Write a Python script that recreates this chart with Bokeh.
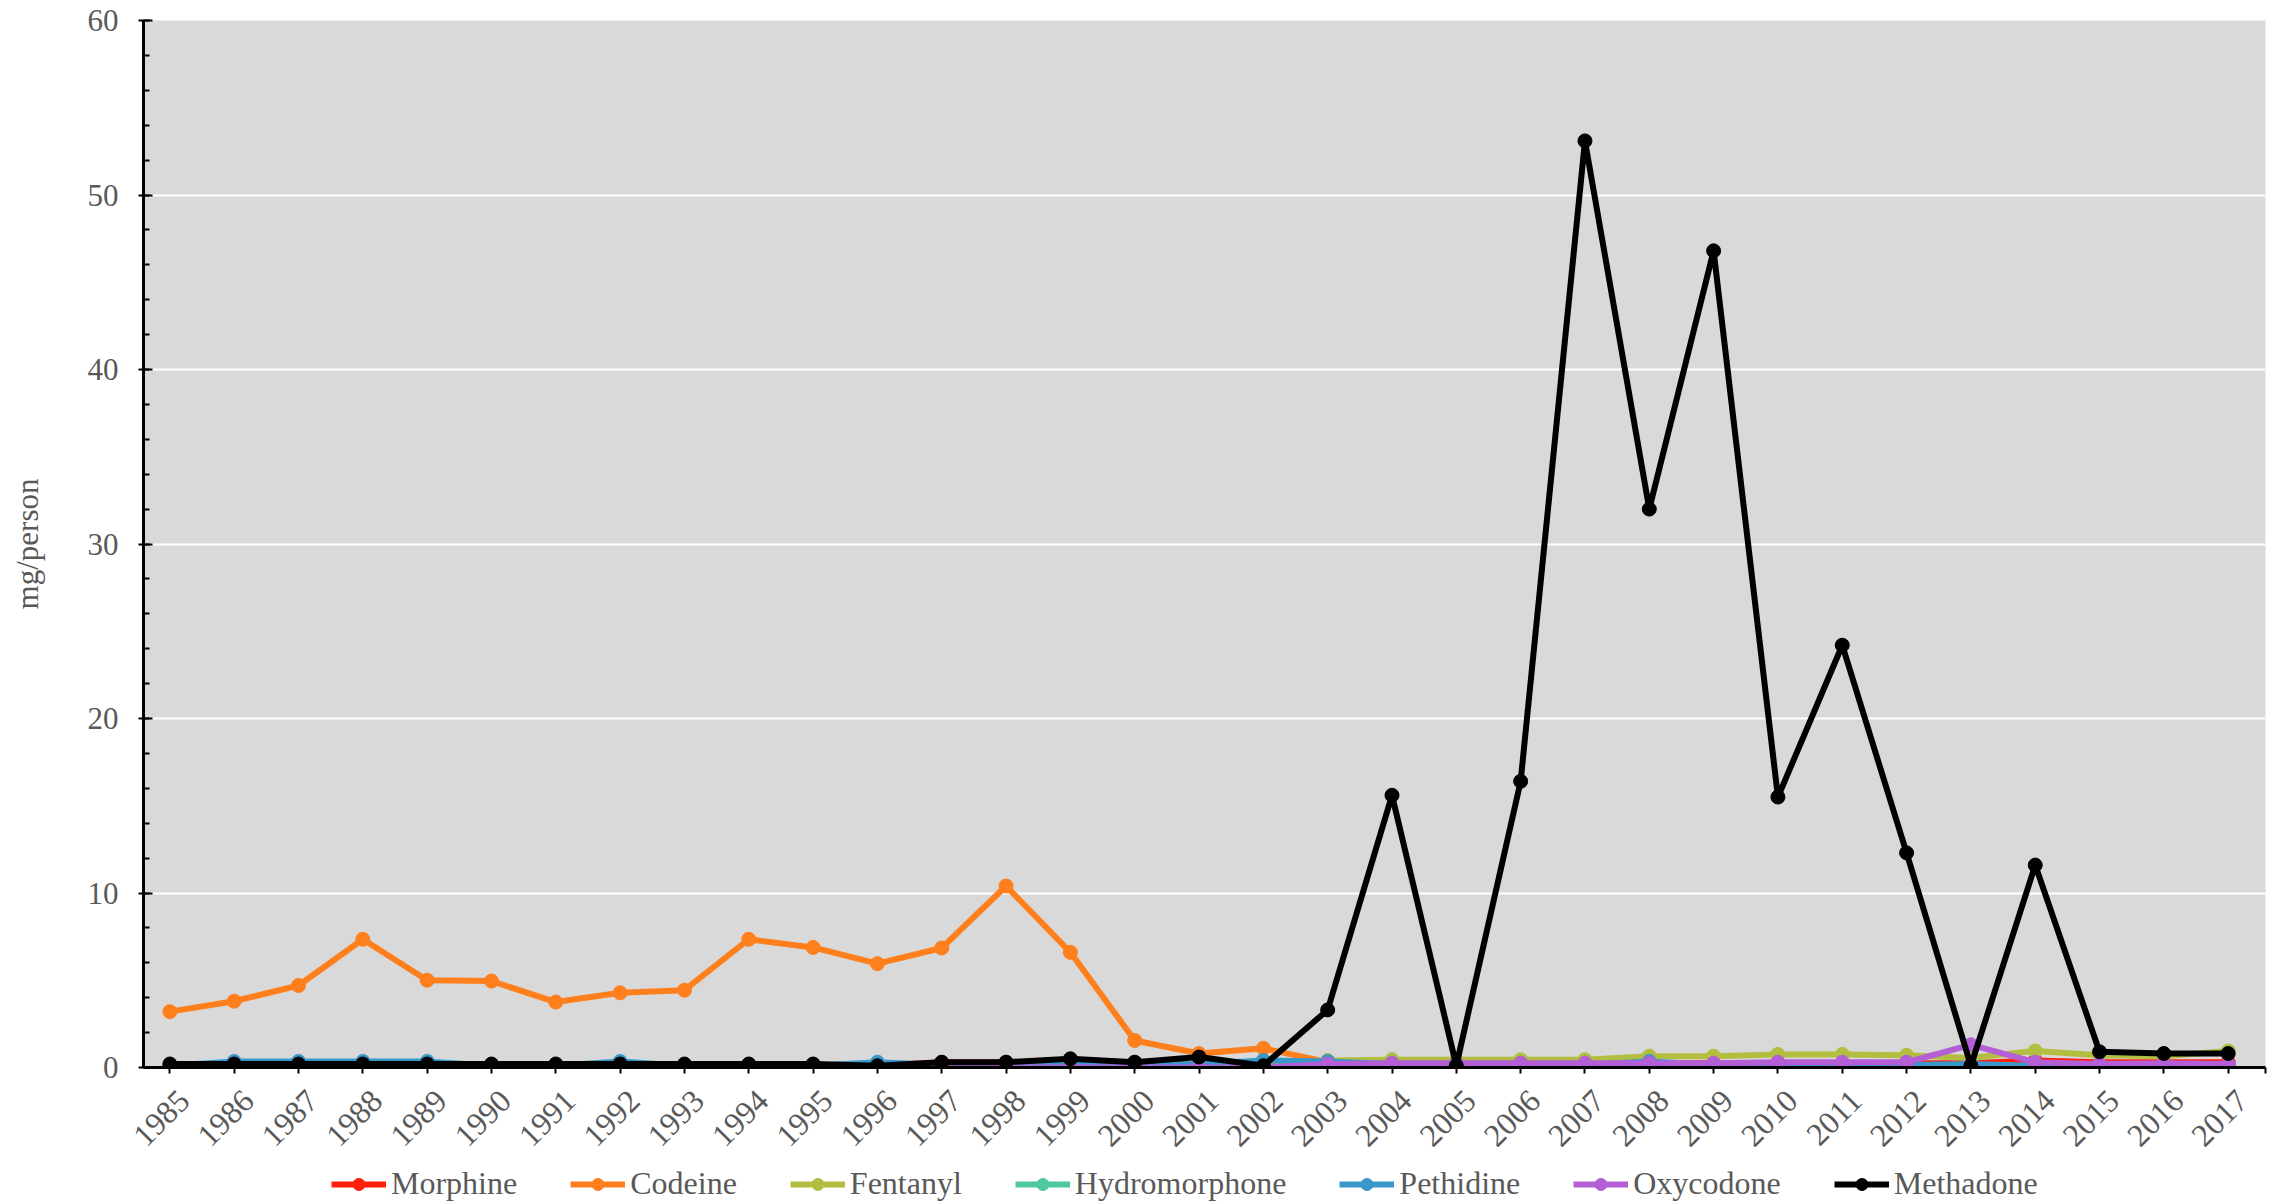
import math
from bokeh.plotting import figure
from bokeh.layouts import column
from bokeh.models import (Legend, LegendItem, FixedTicker, Range1d, SingleIntervalTicker,
                          CustomJSTickFormatter)
from bokeh.embed import file_html
from bokeh.resources import INLINE

years = list(range(1985, 2018))

morphine = [0.1] * 12 + [0.3] * 4 + [0.15] * 7 + [0.25] * 6 + [0.4, 0.3, 0.3, 0.3]
codeine = [3.2, 3.8, 4.7, 7.35, 5.0, 4.95, 3.75, 4.28, 4.43, 7.35, 6.88, 5.95, 6.85,
           10.4, 6.6, 1.55, 0.8, 1.1, 0.3] + [0.1] * 14
fentanyl = [0.0] * 18 + [0.4, 0.45, 0.45, 0.45, 0.45, 0.65, 0.65, 0.75, 0.75, 0.7,
                         0.55, 0.95, 0.7, 0.65, 0.95]
hydromorphone = [0.0] * 18 + [0.05] * 15
pethidine = [0.1, 0.35, 0.35, 0.35, 0.35, 0.1, 0.1, 0.35, 0.1, 0.1, 0.1, 0.3,
             0.15, 0.15, 0.15, 0.15, 0.2, 0.4, 0.35, 0.2, 0.2, 0.15, 0.15,
             0.35, 0.15, 0.15, 0.15, 0.15, 0.2, 0.1, 0.1, 0.1, 0.1]
oxycodone = [0.0] * 18 + [0.2, 0.25, 0.25, 0.25, 0.25, 0.25, 0.25, 0.3, 0.3, 0.3,
                          1.3, 0.3, 0.2, 0.25, 0.2]
methadone = [0.2] * 11 + [0.1, 0.3, 0.3, 0.5, 0.3, 0.6, 0.1, 3.3, 15.6, 0.1, 16.4,
                          53.1, 32.0, 46.8, 15.5, 24.2, 12.3, 0.1, 11.6, 0.9, 0.8, 0.8]

series_names = ["Morphine", "Codeine", "Fentanyl", "Hydromorphone", "Pethidine", "Oxycodone", "Methadone"]
series_values = [morphine, codeine, fentanyl, hydromorphone, pethidine, oxycodone, methadone]
series_colors = ["#FF1F0A", "#FE7F1C", "#B3BE40", "#4FC7A0", "#3A97C9", "#B45FD6", "#000000"]

FONT = "Liberation Serif"
GRAY = "#595959"
X_START, X_END = 1984.59, 2017.58

p = figure(width=2270, height=1160,
           x_range=Range1d(X_START, X_END), y_range=Range1d(0, 60),
           output_backend="svg", toolbar_location=None,
           min_border_left=143, min_border_right=5, min_border_top=20, min_border_bottom=93,
           background_fill_color="#d9d9d9", outline_line_color=None)

# legend lives in its own strip below the chart
p2 = figure(width=2270, height=42, x_range=Range1d(0, 1), y_range=Range1d(0, 1),
            output_backend="svg", toolbar_location=None,
            x_axis_location=None, y_axis_location=None,
            min_border_left=0, min_border_right=0, min_border_top=0, min_border_bottom=0,
            outline_line_color=None)
p2.xgrid.grid_line_color = None
p2.ygrid.grid_line_color = None

items = []
for name, vals, col in zip(series_names, series_values, series_colors):
    p.line(years, vals, line_color=col, line_width=6)
    p.scatter(years, vals, marker="circle", size=14, fill_color=col, line_color=col, line_width=1)
    # off-screen proxies so the legend strip can draw the swatches
    ln = p2.line([-3, -2], [-3, -3], line_color=col, line_width=6)
    sc = p2.scatter([-3], [-3], marker="circle", size=14, fill_color=col, line_color=col, line_width=1)
    items.append(LegendItem(label=name, renderers=[ln, sc]))

# x axis: tick marks at the years (minor ticks), labels nudged right like the original
label_shift = 0.22
p.xaxis.ticker = FixedTicker(ticks=[y + label_shift for y in years],
                             minor_ticks=years + [X_END])
p.xaxis.formatter = CustomJSTickFormatter(code="return String(Math.round(tick));")
p.xaxis.major_label_orientation = math.pi / 4
p.xaxis.major_label_text_font = FONT
p.xaxis.major_label_text_font_size = "32px"
p.xaxis.major_label_text_color = GRAY
p.xaxis.major_tick_line_color = None
p.xaxis.major_tick_in = 0
p.xaxis.major_tick_out = 6
p.xaxis.minor_tick_in = 0
p.xaxis.minor_tick_out = 6
p.xaxis.minor_tick_line_width = 2
p.xaxis.minor_tick_line_color = "black"
p.xaxis.axis_line_width = 3
p.xaxis.major_label_standoff = 22

p.yaxis.ticker = SingleIntervalTicker(interval=10, num_minor_ticks=5)
p.yaxis.major_label_text_font = FONT
p.yaxis.major_label_text_font_size = "31px"
p.yaxis.major_label_text_color = GRAY
p.yaxis.major_tick_in = 9
p.yaxis.major_tick_out = 5
p.yaxis.minor_tick_in = 6
p.yaxis.minor_tick_out = 0
p.yaxis.axis_line_width = 3
p.yaxis.major_tick_line_width = 2
p.yaxis.minor_tick_line_width = 2
p.yaxis.major_label_standoff = 20
p.yaxis.axis_label = "mg/person"
p.yaxis.axis_label_text_font = FONT
p.yaxis.axis_label_text_font_size = "31px"
p.yaxis.axis_label_text_font_style = "normal"
p.yaxis.axis_label_text_color = GRAY
p.yaxis.axis_label_standoff = 40

p.xgrid.grid_line_color = None
p.ygrid.grid_line_color = "white"
p.ygrid.grid_line_width = 2

legend = Legend(items=items, orientation="horizontal", location=(188, 0),
                glyph_width=55, glyph_height=30, label_standoff=5, spacing=53,
                padding=0, margin=0, background_fill_alpha=0, border_line_alpha=0,
                label_text_font=FONT, label_text_font_size="32px", label_text_color=GRAY)
p2.add_layout(legend, "center")

layout = column(p, p2, spacing=0)
open("out.html", "w").write(file_html(layout, INLINE))
